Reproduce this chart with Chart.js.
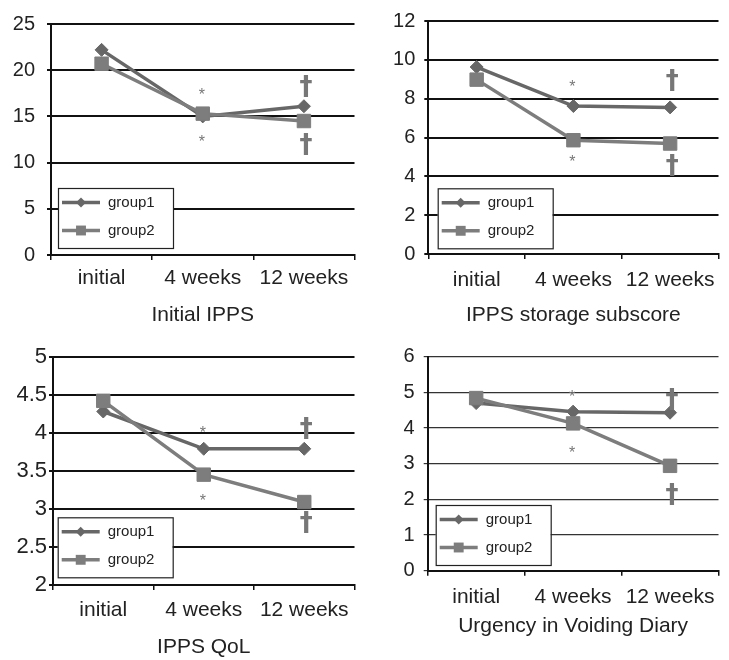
<!DOCTYPE html>
<html><head><meta charset="utf-8">
<script src="https://cdn.jsdelivr.net/npm/chart.js@4.4.0/dist/chart.umd.min.js"></script>
<style>
html,body{margin:0;padding:0;background:#fff;width:729px;height:660px;overflow:hidden}
canvas{position:absolute}
</style></head><body>
<canvas id="c1" width="365" height="330" style="left:0;top:0"></canvas>
<canvas id="c2" width="364" height="330" style="left:365px;top:0"></canvas>
<canvas id="c3" width="365" height="330" style="left:0;top:330px"></canvas>
<canvas id="c4" width="364" height="330" style="left:365px;top:330px"></canvas>
<script>
// ---- data ----
const categories = ['initial', '4 weeks', '12 weeks'];
const seriesNames = ['group1', 'group2'];
const titles = ['Initial IPPS', 'IPPS storage subscore', 'IPPS QoL', 'Urgency in Voiding Diary'];

const ippsGroup1 = [22.2, 15.0, 16.1];
const ippsGroup2 = [20.7, 15.3, 14.5];
const storageGroup1 = [9.63, 7.62, 7.55];
const storageGroup2 = [8.98, 5.86, 5.69];
const qolGroup1 = [4.28, 3.79, 3.79];
const qolGroup2 = [4.42, 3.45, 3.09];
const urgencyGroup1 = [4.70, 4.46, 4.43];
const urgencyGroup2 = [4.84, 4.13, 2.94];

const ippsTicks = [0, 5, 10, 15, 20, 25];
const storageTicks = [0, 2, 4, 6, 8, 10, 12];
const qolTicks = [2, 2.5, 3, 3.5, 4, 4.5, 5];
const urgencyTicks = [0, 1, 2, 3, 4, 5, 6];

// significance marks: [symbol, category index, value]
const ippsMarks = [['*', 1, 17.8], ['*', 1, 12.7], ['†', 2, 18.2], ['†', 2, 12.0]];
const storageMarks = [['*', 1, 8.8], ['*', 1, 4.95], ['†', 2, 8.93], ['†', 2, 4.58]];
const qolMarks = [['*', 1, 4.05], ['*', 1, 3.15], ['†', 2, 4.05], ['†', 2, 2.82]];
const urgencyMarks = [['*', 1, 4.99], ['*', 1, 3.40], ['†', 2, 4.81], ['†', 2, 2.15]];

// ---- styling ----
const FONT = '"Liberation Sans", Arial, Helvetica, sans-serif';
Chart.defaults.font.family = FONT;
Chart.defaults.color = '#222';
const colors = ['#676767', '#7d7d7d'];

const panels = [
  {id: 'c1', g1: ippsGroup1, g2: ippsGroup2, ticks: ippsTicks, marks: ippsMarks, title: titles[0],
   W: 365, areaL: 51, areaT: 21.3, padR: 7, areaB: 255, titleY: 315, yPad: 12, yFont: 20, xPad: 6,
   gridW: 2, gridC: '#111', leg: {dx: 7, dy: 7}},
  {id: 'c2', g1: storageGroup1, g2: storageGroup2, ticks: storageTicks, marks: storageMarks, title: titles[1],
   W: 364, areaL: 63.3, areaT: 15.7, padR: 0, areaB: 254, titleY: 315.5, yPad: 9, yFont: 20, xPad: 9,
   gridW: 2, gridC: '#111', leg: {dx: 9.4, dy: 5.7}},
  {id: 'c3', g1: qolGroup1, g2: qolGroup2, ticks: qolTicks, marks: qolMarks, title: titles[2],
   W: 365, areaL: 53, areaT: 26.7, padR: 8, areaB: 255, titleY: 317, yPad: 2, yFont: 22, xPad: 8.5,
   gridW: 2, gridC: '#111', leg: {dx: 4.7, dy: 7.7}},
  {id: 'c4', g1: urgencyGroup1, g2: urgencyGroup2, ticks: urgencyTicks, marks: urgencyMarks, title: titles[3],
   W: 364, areaL: 62.7, areaT: 26.7, padR: 9, areaB: 240.7, titleY: 296, yPad: 9, yFont: 20, xPad: 9,
   gridW: 1.2, gridC: '#333', leg: {dx: 8, dy: 5.7}}
];

function makeChart(p) {
  const H = 330;
  const marksPlugin = {
    id: 'marks',
    afterDatasetsDraw(chart) {
      const ctx = chart.ctx, xs = chart.scales.x, ys = chart.scales.y;
      p.marks.forEach(([t, ci, v]) => {
        ctx.save();
        ctx.font = t === '*' ? '16px ' + FONT : 'bold 26px "DejaVu Sans", ' + FONT;
        ctx.fillStyle = '#777';
        ctx.textAlign = 'center';
        ctx.textBaseline = 'alphabetic';
        const m = ctx.measureText(t);
        const px = xs.getPixelForValue(ci) + (t === '†' ? 2 : -1);
        const py = ys.getPixelForValue(v);
        ctx.fillText(t, px, py + (m.actualBoundingBoxAscent - m.actualBoundingBoxDescent) / 2);
        ctx.restore();
      });
    }
  };
  const legendPlugin = {
    id: 'boxLegend',
    afterDraw(chart) {
      const ctx = chart.ctx, a = chart.chartArea;
      const bw = 115, bh = 60;
      const bx = a.left + p.leg.dx, by = a.bottom - p.leg.dy - bh;
      ctx.save();
      ctx.fillStyle = '#fff';
      ctx.fillRect(bx, by, bw, bh);
      ctx.strokeStyle = '#222';
      ctx.lineWidth = 1.2;
      ctx.strokeRect(bx + 0.5, by + 0.5, bw, bh);
      chart.data.datasets.forEach((ds, i) => {
        const ry = by + 14.5 + i * 28;
        ctx.strokeStyle = ds.borderColor;
        ctx.lineWidth = 3.5;
        ctx.beginPath();
        ctx.moveTo(bx + 4, ry);
        ctx.lineTo(bx + 42, ry);
        ctx.stroke();
        ctx.fillStyle = ds.borderColor;
        Chart.helpers.drawPoint(ctx, {pointStyle: ds.pointStyle, radius: i === 0 ? 5 : 7, rotation: 0, borderWidth: 0}, bx + 23, ry);
        ctx.fillStyle = '#222';
        ctx.font = '15px ' + FONT;
        ctx.textAlign = 'left';
        ctx.textBaseline = 'middle';
        ctx.fillText(ds.label, bx + 50, ry);
      });
      // panel title, centred under the plot area
      ctx.fillStyle = '#222';
      ctx.font = '21px ' + FONT;
      ctx.textAlign = 'center';
      ctx.textBaseline = 'middle';
      ctx.fillText(p.title, (a.left + a.right) / 2, p.titleY);
      ctx.restore();
    }
  };
  const t = p.ticks;
  return new Chart(document.getElementById(p.id), {
    type: 'line',
    data: {
      labels: categories,
      datasets: [
        {label: seriesNames[0], data: p.g1, borderColor: colors[0], backgroundColor: colors[0],
         pointBackgroundColor: colors[0], pointBorderColor: colors[0], pointStyle: 'rectRot',
         pointRadius: 6.5, pointBorderWidth: 1, borderWidth: 3.5, tension: 0, order: 1},
        {label: seriesNames[1], data: p.g2, borderColor: colors[1], backgroundColor: colors[1],
         pointBackgroundColor: colors[1], pointBorderColor: colors[1], pointStyle: 'rect',
         pointRadius: 9.5, pointBorderWidth: 1, borderWidth: 3.5, tension: 0, order: 0}
      ]
    },
    options: {
      responsive: false,
      animation: false,
      events: [],
      layout: {padding: {left: 0, top: p.areaT, right: p.padR, bottom: 0}},
      plugins: {
        legend: {display: false},
        tooltip: {enabled: false},
        title: {display: false}
      },
      scales: {
        x: {
          type: 'category',
          offset: true,
          grid: {offset: true, drawOnChartArea: false, drawTicks: true, tickLength: 5, color: '#111', lineWidth: 1.5},
          border: {display: true, color: '#111', width: 2},
          ticks: {font: {size: 21, family: FONT}, color: '#222', padding: p.xPad - 0.5, maxRotation: 0, autoSkip: false},
          afterFit(s) { s.height = H - p.areaB; }
        },
        y: {
          min: t[0], max: t[t.length - 1],
          grid: {color: p.gridC, lineWidth: p.gridW, drawTicks: true, tickLength: 4},
          border: {display: true, color: '#111', width: 2},
          ticks: {stepSize: t[1] - t[0], font: {size: p.yFont, family: FONT}, color: '#222', padding: p.yPad,
                  callback: v => String(v)},
          afterFit(s) { s.width = p.areaL; }
        }
      }
    },
    plugins: [marksPlugin, legendPlugin]
  });
}
panels.forEach(makeChart);
</script>
</body></html>
